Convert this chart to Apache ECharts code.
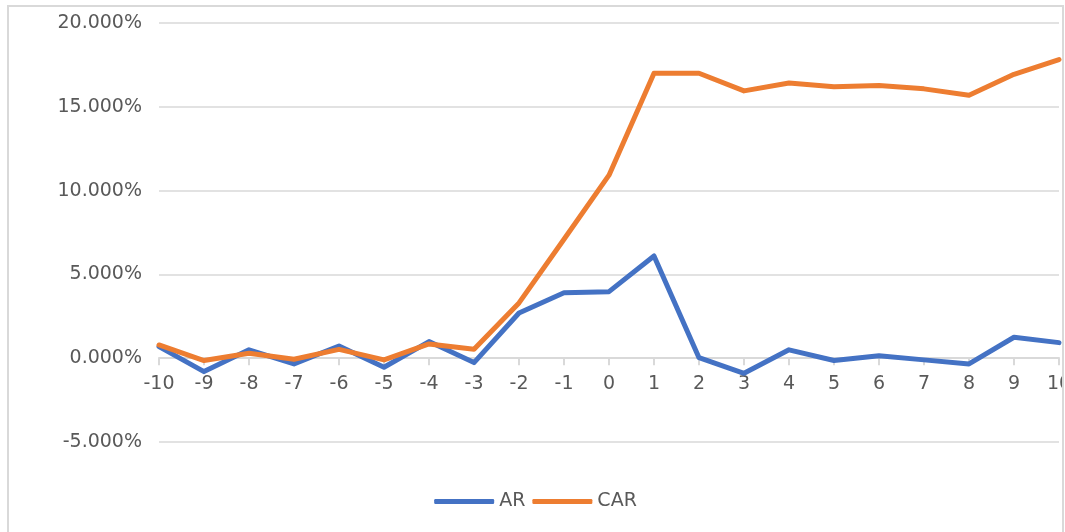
<!DOCTYPE html>
<html>
<head>
<meta charset="utf-8">
<script src="https://cdn.jsdelivr.net/npm/echarts@6/dist/echarts.min.js"></script>
<style>
	html, body { margin: 0; padding: 0; background: #fff; }
	#frame {
		position: absolute; left: 7px; top: 5px;
		width: 1053px; height: 527px;
		border: 2px solid #d9d9d9; border-bottom: none;
		overflow: hidden;
	}
	#main { width: 1053px; height: 527px; }
</style>
</head>
<body>
<div id="frame"><div id="main"></div></div>
<script>
	// event window days
	var days = ['-10', '-9', '-8', '-7', '-6', '-5', '-4', '-3', '-2', '-1', '0',
		'1', '2', '3', '4', '5', '6', '7', '8', '9', '10'];
	// values in percent
	var ar = [0.69, -0.8, 0.5, -0.34, 0.73, -0.54, 0.99, -0.26, 2.7, 3.91, 3.97,
		6.1, 0.03, -0.9, 0.5, -0.14, 0.14, -0.1, -0.34, 1.25, 0.93];
	var car = [0.79, -0.14, 0.3, -0.06, 0.53, -0.1, 0.85, 0.54, 3.3, 7.1, 10.92,
		17.0, 17.0, 15.95, 16.42, 16.19, 16.27, 16.07, 15.69, 16.94, 17.82];

	var textColor = '#595959';
	var font = '"DejaVu Sans", sans-serif';
	var yMin = -5, yMax = 20;

	var gridTop = 16, gridBottom = 92, chartHeight = 527;
	// x axis sits on the 0% line, not on the bottom edge
	var plotHeight = chartHeight - gridTop - gridBottom;
	var zeroOffset = -plotHeight * (0 - yMin) / (yMax - yMin);

	var myChart = echarts.init(document.getElementById('main'));
	var option = {
		animation: false,
		textStyle: { fontFamily: font, color: textColor },
		grid: { left: 150, right: 3, top: gridTop, bottom: gridBottom, outerBoundsMode: 'none' },
		legend: {
			left: 'center',
			top: 480,
			icon: 'roundRect',
			itemWidth: 60,
			itemHeight: 5,
			itemGap: 7,
			textStyle: { fontFamily: font, fontSize: 19, color: textColor },
			data: ['AR', 'CAR']
		},
		xAxis: {
			type: 'category',
			boundaryGap: false,
			data: days,
			offset: zeroOffset,
			axisLine: { onZero: false, lineStyle: { color: '#d9d9d9', width: 2 } },
			axisTick: { show: true, length: 7, lineStyle: { color: '#d9d9d9', width: 2 } },
			axisLabel: { fontFamily: font, fontSize: 19, color: textColor, margin: 16 },
			splitLine: { show: false }
		},
		yAxis: {
			type: 'value',
			min: yMin,
			max: yMax,
			interval: 5,
			axisLine: { show: false },
			axisTick: { show: false },
			axisLabel: {
				fontFamily: font, fontSize: 19, color: textColor, margin: 17,
				formatter: function(v) { return v.toFixed(3) + '%'; }
			},
			splitLine: { lineStyle: { color: '#d9d9d9', width: 1.5 } }
		},
		series: [{
			name: 'AR',
			type: 'line',
			symbol: 'none',
			data: ar,
			itemStyle: { color: '#4472C4' },
			lineStyle: { color: '#4472C4', width: 5, cap: 'round', join: 'round' }
		}, {
			name: 'CAR',
			type: 'line',
			symbol: 'none',
			data: car,
			itemStyle: { color: '#ED7D31' },
			lineStyle: { color: '#ED7D31', width: 5, cap: 'round', join: 'round' }
		}]
	};
	myChart.setOption(option);
</script>
</body>
</html>
